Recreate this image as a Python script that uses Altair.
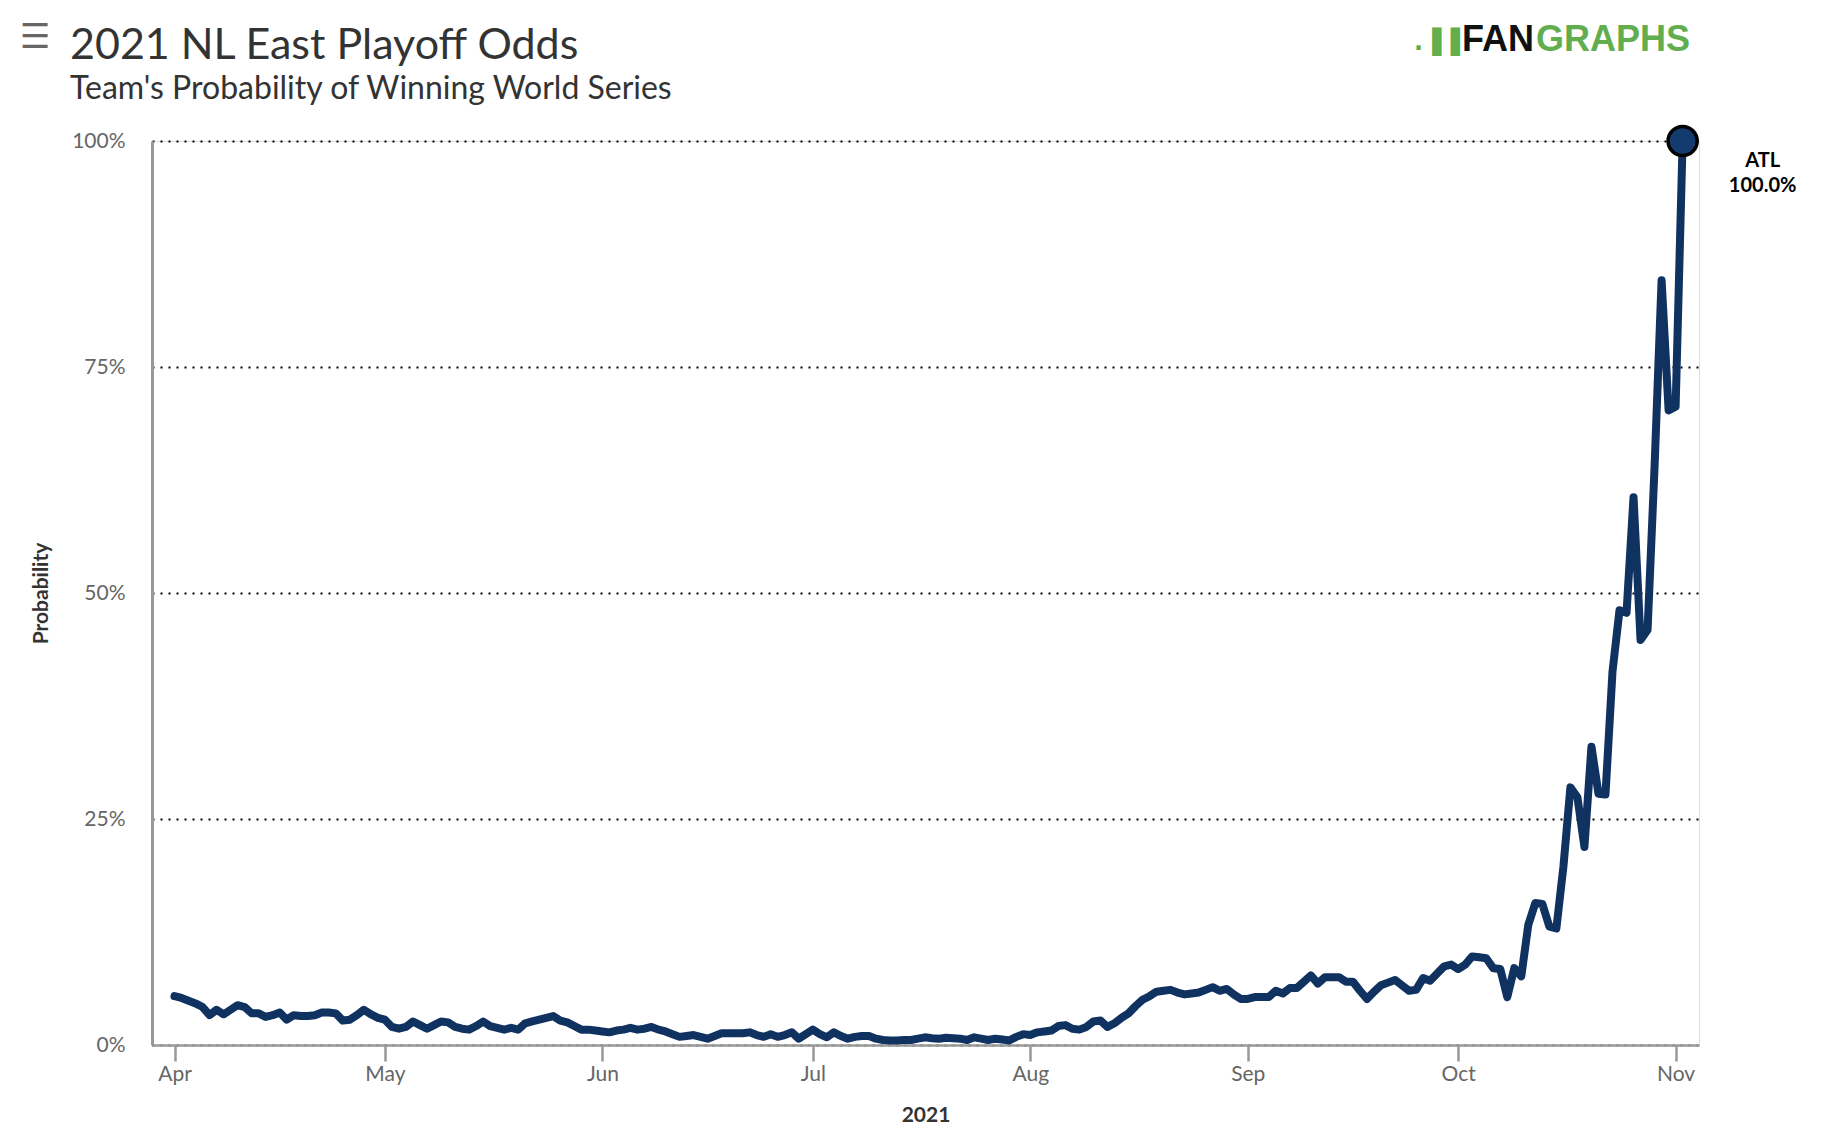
import altair as alt
import pandas as pd

# Daily probability (%) of ATL winning the World Series
apr = [5.4, 5.2, 4.9, 4.6, 4.2, 3.3, 3.9, 3.4, 3.9, 4.4, 4.2, 3.5, 3.5, 3.1, 3.3,
       3.6, 2.8, 3.3, 3.2, 3.2, 3.3, 3.6, 3.6, 3.5, 2.7, 2.8, 3.3, 3.9, 3.4, 3.0]
may = [2.8, 2.0, 1.8, 2.0, 2.6, 2.2, 1.8, 2.2, 2.6, 2.5, 2.0, 1.8, 1.7, 2.1, 2.6,
       2.1, 1.9, 1.7, 1.9, 1.7, 2.4, 2.6, 2.8, 3.0, 3.2, 2.7, 2.5, 2.1, 1.7, 1.7, 1.6]
jun = [1.5, 1.4, 1.6, 1.7, 1.9, 1.7, 1.8, 2.0, 1.7, 1.5, 1.2, 0.9, 1.0, 1.1, 0.9,
       0.7, 1.0, 1.3, 1.3, 1.3, 1.3, 1.4, 1.1, 0.9, 1.2, 0.9, 1.1, 1.4, 0.7, 1.2]
jul = [1.7, 1.2, 0.85, 1.4, 1.0, 0.7, 0.9, 1.0, 1.0, 0.7, 0.55, 0.5, 0.5, 0.55, 0.55,
       0.7, 0.85, 0.75, 0.7, 0.8, 0.75, 0.7, 0.55, 0.85, 0.7, 0.55, 0.7, 0.6, 0.5, 0.9, 1.2]
aug = [1.1, 1.4, 1.5, 1.6, 2.1, 2.2, 1.8, 1.7, 2.0, 2.6, 2.7, 2.0, 2.4, 3.0, 3.5,
       4.3, 5.0, 5.4, 5.9, 6.0, 6.1, 5.8, 5.6, 5.7, 5.8, 6.1, 6.4, 6.0, 6.2, 5.6, 5.1]
sep = [5.1, 5.3, 5.3, 5.3, 6.0, 5.7, 6.3, 6.3, 7.0, 7.7, 6.8, 7.5, 7.5, 7.5, 7.0,
       7.0, 6.0, 5.1, 5.9, 6.6, 6.9, 7.2, 6.6, 6.0, 6.1, 7.4, 7.1, 7.9, 8.7, 8.9]
oct_ = [8.4, 8.9, 9.8, 9.7, 9.6, 8.5, 8.4, 5.3, 8.5, 7.6, 13.3, 15.7, 15.6, 13.1, 12.9,
        19.7, 28.5, 27.4, 21.9, 33.0, 27.8, 27.7, 41.3, 48.1, 47.8, 60.6, 44.8, 45.9,
        64.0, 84.6, 70.2]
nov = [70.6, 100.0]

month_starts = ["2021-04-01", "2021-05-01", "2021-06-01", "2021-07-01",
                "2021-08-01", "2021-09-01", "2021-10-01", "2021-11-01"]
month_values = [apr, may, jun, jul, aug, sep, oct_, nov]

team = "ATL"
title_text = "2021 NL East Playoff Odds"
subtitle_text = "Team's Probability of Winning World Series"
y_ticks = [0, 25, 50, 75, 100]

rows = []
for start, vals in zip(month_starts, month_values):
    for d, v in zip(pd.date_range(start, periods=len(vals), freq="D"), vals):
        rows.append({"date": d.strftime("%Y-%m-%d"), "prob": v, "team": team})
df = pd.DataFrame(rows)
last = df.tail(1).reset_index(drop=True)

LINE = "#103261"
FONT = "Lato"

x_scale = alt.Scale(
    type="utc",
    domain=[alt.DateTime(year=2021, month=3, date=28, hours=19, utc=True),
            alt.DateTime(year=2021, month=11, date=4, hours=8, utc=True)],
)
x_axis = alt.Axis(
    values=[alt.DateTime(year=2021, month=m, date=1, utc=True) for m in range(4, 12)],
    labelExpr="utcFormat(datum.value, '%b')", title="2021",
    grid=False, domainColor="#999999", domainWidth=2.5,
    tickColor="#999999", tickWidth=2.5, tickSize=16,
    labelFont=FONT, labelFontSize=21, labelColor="#666666", labelPadding=2,
    titleFont=FONT, titleFontSize=21, titleFontWeight="bold", titleColor="#333333",
    titlePadding=20,
)
y_scale = alt.Scale(domain=[0, 100], nice=False)
y_axis = alt.Axis(
    values=y_ticks, labelExpr="datum.value + '%'", title="Probability",
    grid=True, gridColor="#000000", gridDash=[2, 6], gridWidth=2,
    ticks=False, tickSize=0, domainColor="#999999", domainWidth=3,
    labelFont=FONT, labelFontSize=21, labelColor="#666666", labelPadding=27,
    titleFont=FONT, titleFontSize=21, titleFontWeight="bold", titleColor="#333333",
    titlePadding=20,
)

base = alt.Chart(df)
line = base.mark_line(color=LINE, strokeWidth=8, strokeJoin="round", strokeCap="round").encode(
    x=alt.X("date:T", scale=x_scale, axis=x_axis),
    y=alt.Y("prob:Q", scale=y_scale, axis=y_axis),
)

end = alt.Chart(last)
dot = end.mark_point(filled=True, fill="#143B6E", stroke="#000000", strokeWidth=3.5,
                     size=850, opacity=1).encode(
    x=alt.X("date:T", scale=x_scale), y=alt.Y("prob:Q", scale=y_scale))
lab1 = end.mark_text(font=FONT, fontSize=20, fontWeight="bold", color="#000000",
                     align="center", dx=80, dy=20).encode(
    x=alt.X("date:T", scale=x_scale), y=alt.Y("prob:Q", scale=y_scale), text="team:N")
lab2 = end.transform_calculate(lbl="format(datum.prob, '.1f') + '%'").mark_text(
    font=FONT, fontSize=20, fontWeight="bold", color="#000000",
    align="center", dx=80, dy=45).encode(
    x=alt.X("date:T", scale=x_scale), y=alt.Y("prob:Q", scale=y_scale), text="lbl:N")

# Logo and menu icon (decoration)
fan = alt.Chart(pd.DataFrame({"t": ["FAN"]})).mark_text(
    font="Liberation Sans", fontSize=36, fontWeight="bold", color="#111111",
    align="left", baseline="middle").encode(
    x=alt.value(1310), y=alt.value(-101), text="t:N")
graphs = alt.Chart(pd.DataFrame({"t": ["GRAPHS"]})).mark_text(
    font="Liberation Sans", fontSize=36, fontWeight="bold", color="#62AE4E",
    align="left", baseline="middle").encode(
    x=alt.value(1384), y=alt.value(-101), text="t:N")
bars = alt.Chart(pd.DataFrame({"t": [".\u2590\u2590"]})).mark_text(
    font="DejaVu Sans", fontSize=24, fontWeight="bold", color="#62AE4E",
    align="left", baseline="middle").encode(
    x=alt.value(1262), y=alt.value(-98), text="t:N")
menu = alt.Chart(pd.DataFrame({"t": ["\u2630"]})).mark_text(
    font="DejaVu Sans", fontSize=34, fontWeight="bold", color="#666666",
    align="center", baseline="middle").encode(
    x=alt.value(-117), y=alt.value(-103), text="t:N")

chart = alt.layer(line, dot, lab1, lab2, fan, graphs, bars, menu).properties(
    width=1547, height=904,
    padding={"left": 144, "top": 133, "right": 110, "bottom": 90},
    autosize=alt.AutoSizeParams(type="none"),
    title=alt.TitleParams(
        text=title_text, subtitle=subtitle_text, anchor="start", frame="group",
        dx=-82, dy=94, font=FONT, fontSize=43, fontWeight="normal", color="#333333",
        subtitleFont=FONT, subtitleFontSize=32, subtitleColor="#333333",
        subtitlePadding=6, offset=10,
    ),
).configure_view(stroke=None).configure(background="#ffffff")

chart.save("out.html", embed_options={"renderer": "svg", "actions": False})
